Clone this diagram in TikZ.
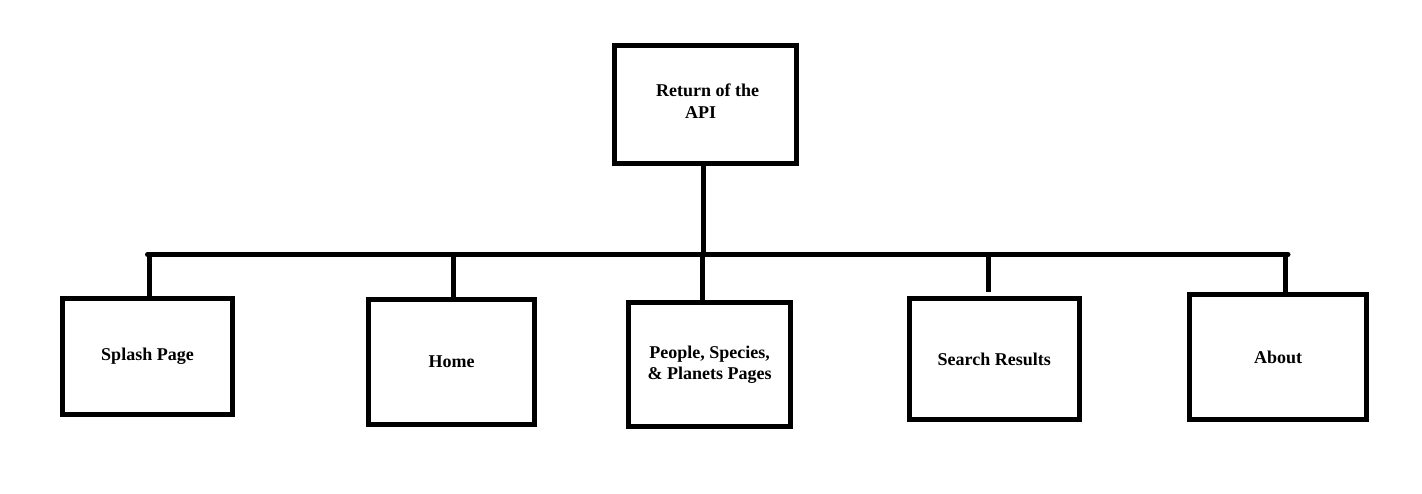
\documentclass[tikz,border=0pt]{standalone}
\usepackage{fontspec}
\setmainfont{Liberation Serif}
\begin{document}
\begin{tikzpicture}[x=1pt,y=-1pt,
  box/.style={draw=black,line width=5pt,fill=white,rectangle,inner sep=0pt,
    font=\fontsize{18}{21}\selectfont\bfseries,align=center},
  wire/.style={draw=black,line width=5pt,line cap=round}]
\useasboundingbox[fill=white] (0,0) rectangle (1422,494);
% boxes
\node[box,minimum width=182pt,minimum height=118pt] (top) at (705.5,104.5) {};
\node[font=\fontsize{18}{22}\selectfont\bfseries,align=left,anchor=north west,inner sep=0pt] (toptext) at (656,84) {Return of the\\\hspace*{29pt}API};
\node[box,minimum width=170pt,minimum height=115.5pt] (splash) at (147.5,356.25) {Splash Page};
\node[box,minimum width=166pt,minimum height=124.5pt] (home) at (451.5,361.75) {Home};
\node[box,minimum width=162pt,minimum height=124pt] (people) at (709.5,364.5) {People, Species,\\\& Planets Pages};
\node[box,minimum width=170.5pt,minimum height=121pt] (search) at (994.25,359) {Search Results};
\node[box,minimum width=177pt,minimum height=125pt] (about) at (1278,357) {About};
% bus
\coordinate (busL) at (147.5,254.5);
\coordinate (busR) at (1288,254.5);
\coordinate (bTop) at (703.5,254.5);
\coordinate (b1) at (149.5,254.5);
\coordinate (b2) at (453.5,254.5);
\coordinate (b3) at (702.5,254.5);
\coordinate (b4) at (988.5,254.5);
\coordinate (b4e) at (988.5,292);
\coordinate (b5) at (1285.5,254.5);
\draw[wire] (busL) -- (busR);
\draw[wire,line cap=butt] (bTop |- top.south) -- (bTop);
\draw[wire,line cap=butt] (b1) -- (b1 |- splash.north);
\draw[wire,line cap=butt] (b2) -- (b2 |- home.north);
\draw[wire,line cap=butt] (b3) -- (b3 |- people.north);
\draw[wire,line cap=butt] (b4) -- (b4e);
\draw[wire,line cap=butt] (b5) -- (b5 |- about.north);
\end{tikzpicture}
\end{document}
